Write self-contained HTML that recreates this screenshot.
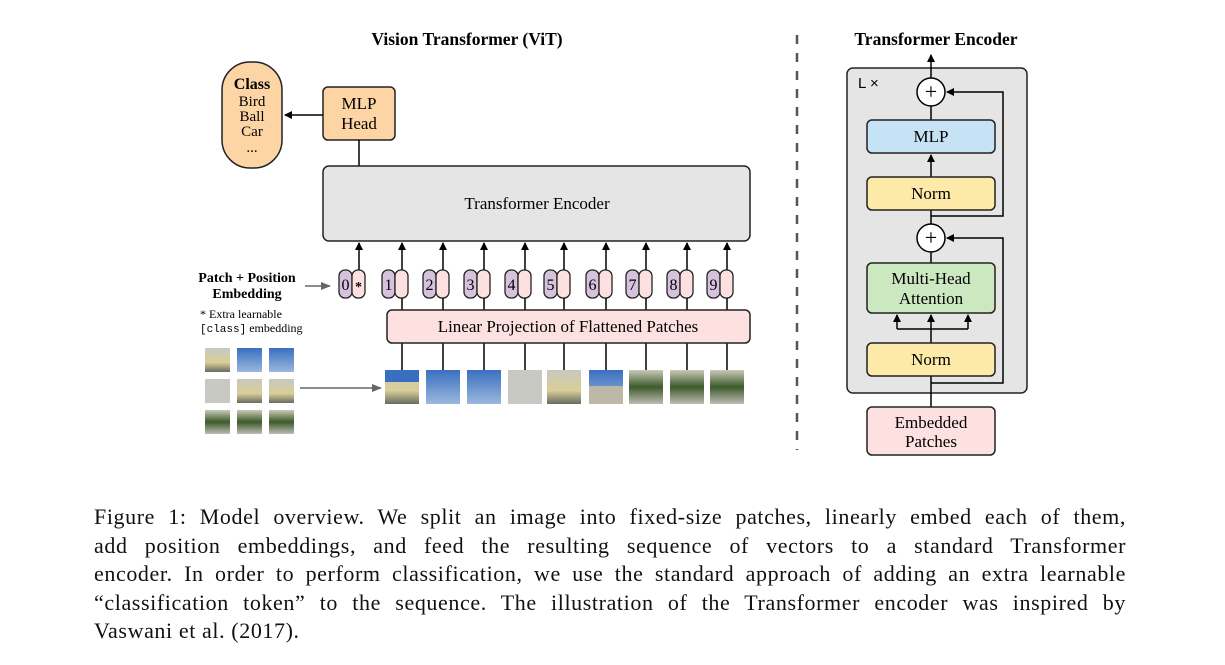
<!DOCTYPE html>
<html><head><meta charset="utf-8"><style>
body{margin:0;background:#fff;width:1225px;height:665px;overflow:hidden;position:relative}
svg{position:absolute;left:0;top:0}
.cap{position:absolute;left:94px;top:503px;width:1032px;font:22px/28.6px "Liberation Serif",serif;letter-spacing:0.6px;color:#111}
.cap div{text-align:justify;text-align-last:justify;white-space:nowrap}
.cap div.l{text-align-last:left}
</style></head><body>
<svg width="1225" height="665" font-family="Liberation Serif, serif">
<defs>
<marker id="ah" markerWidth="8" markerHeight="8" refX="7" refY="4" orient="auto" markerUnits="userSpaceOnUse"><path d="M0,0L8,4L0,8z" fill="#000"/></marker>
<marker id="ag" markerWidth="10" markerHeight="8" refX="9" refY="4" orient="auto" markerUnits="userSpaceOnUse"><path d="M0,0L10,4L0,8z" fill="#666"/></marker>
<linearGradient id="sky" x1="0" y1="0" x2="0" y2="1"><stop offset="0" stop-color="#3a6fc0"/><stop offset="1" stop-color="#9bb8dd"/></linearGradient>
<linearGradient id="bld" x1="0" y1="0" x2="0" y2="1"><stop offset="0" stop-color="#c8c8c0"/><stop offset="0.6" stop-color="#d9cf98"/><stop offset="1" stop-color="#6a6a60"/></linearGradient>
<linearGradient id="grn" x1="0" y1="0" x2="0" y2="1"><stop offset="0" stop-color="#c9cbb8"/><stop offset="0.5" stop-color="#3d5a2a"/><stop offset="1" stop-color="#bdbdb5"/></linearGradient>
</defs>
<text x="467" y="45" text-anchor="middle" font-weight="bold" font-size="17.5">Vision Transformer (ViT)</text>
<text x="936" y="45" text-anchor="middle" font-weight="bold" font-size="17.5">Transformer Encoder</text>
<line x1="797" y1="35" x2="797" y2="450" stroke="#555" stroke-width="2.5" stroke-dasharray="9,9"/>
<rect x="222" y="62" width="60" height="106" rx="28" fill="#fdd5a5" stroke="#222" stroke-width="1.5"/>
<text x="252" y="89" text-anchor="middle" font-weight="bold" font-size="16">Class</text>
<text x="252" y="106" text-anchor="middle" font-size="15">Bird</text>
<text x="252" y="121" text-anchor="middle" font-size="15">Ball</text>
<text x="252" y="136" text-anchor="middle" font-size="15">Car</text>
<text x="252" y="152" text-anchor="middle" font-size="15">...</text>
<rect x="323" y="87" width="72" height="53" rx="5" fill="#fdd5a5" stroke="#222" stroke-width="1.5"/>
<text x="359" y="109" text-anchor="middle" font-size="17">MLP</text>
<text x="359" y="129" text-anchor="middle" font-size="17">Head</text>
<line x1="323" y1="115" x2="285" y2="115" stroke="#000" stroke-width="1.5" marker-end="url(#ah)"/>
<line x1="359" y1="140" x2="359" y2="166" stroke="#000" stroke-width="1.5"/>
<rect x="323" y="166" width="427" height="75" rx="6" fill="#e5e5e5" stroke="#222" stroke-width="1.5"/>
<text x="537" y="209" text-anchor="middle" font-size="17">Transformer Encoder</text>
<g stroke="#000" stroke-width="1.5">
<line x1="359" y1="270" x2="359" y2="243" marker-end="url(#ah)"/>
<line x1="402" y1="270" x2="402" y2="243" marker-end="url(#ah)"/>
<line x1="443" y1="270" x2="443" y2="243" marker-end="url(#ah)"/>
<line x1="484" y1="270" x2="484" y2="243" marker-end="url(#ah)"/>
<line x1="525" y1="270" x2="525" y2="243" marker-end="url(#ah)"/>
<line x1="564" y1="270" x2="564" y2="243" marker-end="url(#ah)"/>
<line x1="606" y1="270" x2="606" y2="243" marker-end="url(#ah)"/>
<line x1="646" y1="270" x2="646" y2="243" marker-end="url(#ah)"/>
<line x1="687" y1="270" x2="687" y2="243" marker-end="url(#ah)"/>
<line x1="727" y1="270" x2="727" y2="243" marker-end="url(#ah)"/>
</g>
<g stroke="#222" stroke-width="1.3" font-size="16">
<rect x="339" y="270" width="13" height="28" rx="6" fill="#d6c2dc"/><rect x="352" y="270" width="13" height="28" rx="6" fill="#fde0e0"/>
<rect x="382" y="270" width="13" height="28" rx="6" fill="#d6c2dc"/><rect x="395" y="270" width="13" height="28" rx="6" fill="#fde0e0"/>
<rect x="423" y="270" width="13" height="28" rx="6" fill="#d6c2dc"/><rect x="436" y="270" width="13" height="28" rx="6" fill="#fde0e0"/>
<rect x="464" y="270" width="13" height="28" rx="6" fill="#d6c2dc"/><rect x="477" y="270" width="13" height="28" rx="6" fill="#fde0e0"/>
<rect x="505" y="270" width="13" height="28" rx="6" fill="#d6c2dc"/><rect x="518" y="270" width="13" height="28" rx="6" fill="#fde0e0"/>
<rect x="544" y="270" width="13" height="28" rx="6" fill="#d6c2dc"/><rect x="557" y="270" width="13" height="28" rx="6" fill="#fde0e0"/>
<rect x="586" y="270" width="13" height="28" rx="6" fill="#d6c2dc"/><rect x="599" y="270" width="13" height="28" rx="6" fill="#fde0e0"/>
<rect x="626" y="270" width="13" height="28" rx="6" fill="#d6c2dc"/><rect x="639" y="270" width="13" height="28" rx="6" fill="#fde0e0"/>
<rect x="667" y="270" width="13" height="28" rx="6" fill="#d6c2dc"/><rect x="680" y="270" width="13" height="28" rx="6" fill="#fde0e0"/>
<rect x="707" y="270" width="13" height="28" rx="6" fill="#d6c2dc"/><rect x="720" y="270" width="13" height="28" rx="6" fill="#fde0e0"/>
</g>
<g font-size="16" text-anchor="middle">
<text x="345.5" y="290">0</text><text x="358.5" y="291" font-weight="bold" font-size="14">*</text>
<text x="388.5" y="290">1</text><text x="429.5" y="290">2</text><text x="470.5" y="290">3</text>
<text x="511.5" y="290">4</text><text x="550.5" y="290">5</text><text x="592.5" y="290">6</text>
<text x="632.5" y="290">7</text><text x="673.5" y="290">8</text><text x="713.5" y="290">9</text>
</g>
<text x="247" y="282" text-anchor="middle" font-weight="bold" font-size="14">Patch + Position</text>
<text x="247" y="298" text-anchor="middle" font-weight="bold" font-size="14">Embedding</text>
<line x1="305" y1="286" x2="330" y2="286" stroke="#666" stroke-width="1.5" marker-end="url(#ag)"/>
<text x="200" y="318" font-size="12">* Extra learnable</text>
<text x="200" y="332" font-size="12"><tspan font-family="Liberation Mono, monospace" font-size="11">[class]</tspan> embedding</text>
<g stroke="#000" stroke-width="1.5">
<line x1="402" y1="298" x2="402" y2="310"/><line x1="443" y1="298" x2="443" y2="310"/><line x1="484" y1="298" x2="484" y2="310"/>
<line x1="525" y1="298" x2="525" y2="310"/><line x1="564" y1="298" x2="564" y2="310"/><line x1="606" y1="298" x2="606" y2="310"/>
<line x1="646" y1="298" x2="646" y2="310"/><line x1="687" y1="298" x2="687" y2="310"/><line x1="727" y1="298" x2="727" y2="310"/>
<line x1="402" y1="343" x2="402" y2="370"/><line x1="443" y1="343" x2="443" y2="370"/><line x1="484" y1="343" x2="484" y2="370"/>
<line x1="525" y1="343" x2="525" y2="370"/><line x1="564" y1="343" x2="564" y2="370"/><line x1="606" y1="343" x2="606" y2="370"/>
<line x1="646" y1="343" x2="646" y2="370"/><line x1="687" y1="343" x2="687" y2="370"/><line x1="727" y1="343" x2="727" y2="370"/>
</g>
<rect x="387" y="310" width="363" height="33" rx="5" fill="#fde0e0" stroke="#222" stroke-width="1.5"/>
<text x="568" y="332" text-anchor="middle" font-size="17">Linear Projection of Flattened Patches</text>
<rect x="385" y="370" width="34" height="34" fill="url(#bld)"/><rect x="385" y="370" width="34" height="12" fill="#3a6fc0"/>
<rect x="426" y="370" width="34" height="34" fill="url(#sky)"/>
<rect x="467" y="370" width="34" height="34" fill="url(#sky)"/>
<rect x="508" y="370" width="34" height="34" fill="#c9c9c4"/>
<rect x="547" y="370" width="34" height="34" fill="url(#bld)"/>
<rect x="589" y="370" width="34" height="34" fill="url(#sky)"/><rect x="589" y="386" width="34" height="18" fill="#bdb8a8"/>
<rect x="629" y="370" width="34" height="34" fill="url(#grn)"/>
<rect x="670" y="370" width="34" height="34" fill="url(#grn)"/>
<rect x="710" y="370" width="34" height="34" fill="url(#grn)"/>
<rect x="205" y="348" width="25" height="24" fill="url(#bld)"/><rect x="237" y="348" width="25" height="24" fill="url(#sky)"/><rect x="269" y="348" width="25" height="24" fill="url(#sky)"/>
<rect x="205" y="379" width="25" height="24" fill="#c9c9c4"/><rect x="237" y="379" width="25" height="24" fill="url(#bld)"/><rect x="269" y="379" width="25" height="24" fill="url(#bld)"/>
<rect x="205" y="410" width="25" height="24" fill="url(#grn)"/><rect x="237" y="410" width="25" height="24" fill="url(#grn)"/><rect x="269" y="410" width="25" height="24" fill="url(#grn)"/>
<line x1="300" y1="388" x2="381" y2="388" stroke="#666" stroke-width="1.5" marker-end="url(#ag)"/>
<rect x="847" y="68" width="180" height="325" rx="6" fill="#e5e5e5" stroke="#222" stroke-width="1.5"/>
<text x="858" y="88" font-size="15" font-family="Liberation Sans, sans-serif">L ×</text>
<g stroke="#000" stroke-width="1.5" fill="none">
<line x1="931" y1="78" x2="931" y2="55" marker-end="url(#ah)"/>
<line x1="931" y1="106" x2="931" y2="120"/>
<line x1="931" y1="177" x2="931" y2="155" marker-end="url(#ah)"/>
<line x1="931" y1="210" x2="931" y2="224"/>
<path d="M931,216H1003V92H947" marker-end="url(#ah)"/>
<line x1="931" y1="252" x2="931" y2="263"/>
<path d="M931,383H1003V238H947" marker-end="url(#ah)"/>
<line x1="931" y1="407" x2="931" y2="376"/>
<line x1="931" y1="343" x2="931" y2="315" marker-end="url(#ah)"/>
<path d="M897,329H968"/>
<line x1="897" y1="329" x2="897" y2="315" marker-end="url(#ah)"/>
<line x1="968" y1="329" x2="968" y2="315" marker-end="url(#ah)"/>
</g>
<circle cx="931" cy="92" r="14" fill="#fff" stroke="#000" stroke-width="1.5"/>
<text x="931" y="99" text-anchor="middle" font-size="22">+</text>
<circle cx="931" cy="238" r="14" fill="#fff" stroke="#000" stroke-width="1.5"/>
<text x="931" y="245" text-anchor="middle" font-size="22">+</text>
<rect x="867" y="120" width="128" height="33" rx="5" fill="#c6e2f5" stroke="#222" stroke-width="1.5"/>
<text x="931" y="142" text-anchor="middle" font-size="17">MLP</text>
<rect x="867" y="177" width="128" height="33" rx="5" fill="#fde9a8" stroke="#222" stroke-width="1.5"/>
<text x="931" y="199" text-anchor="middle" font-size="17">Norm</text>
<rect x="867" y="263" width="128" height="50" rx="5" fill="#cbe8c0" stroke="#222" stroke-width="1.5"/>
<text x="931" y="284" text-anchor="middle" font-size="17">Multi-Head</text>
<text x="931" y="304" text-anchor="middle" font-size="17">Attention</text>
<rect x="867" y="343" width="128" height="33" rx="5" fill="#fde9a8" stroke="#222" stroke-width="1.5"/>
<text x="931" y="365" text-anchor="middle" font-size="17">Norm</text>
<rect x="867" y="407" width="128" height="48" rx="5" fill="#fde0e0" stroke="#222" stroke-width="1.5"/>
<text x="931" y="428" text-anchor="middle" font-size="17">Embedded</text>
<text x="931" y="447" text-anchor="middle" font-size="17">Patches</text>
</svg>
<div class="cap">
<div>Figure 1: Model overview. We split an image into fixed-size patches, linearly embed each of them,</div>
<div>add position embeddings, and feed the resulting sequence of vectors to a standard Transformer</div>
<div>encoder. In order to perform classification, we use the standard approach of adding an extra learnable</div>
<div>“classification token” to the sequence. The illustration of the Transformer encoder was inspired by</div>
<div class="l">Vaswani et al. (2017).</div>
</div>
</body></html>
